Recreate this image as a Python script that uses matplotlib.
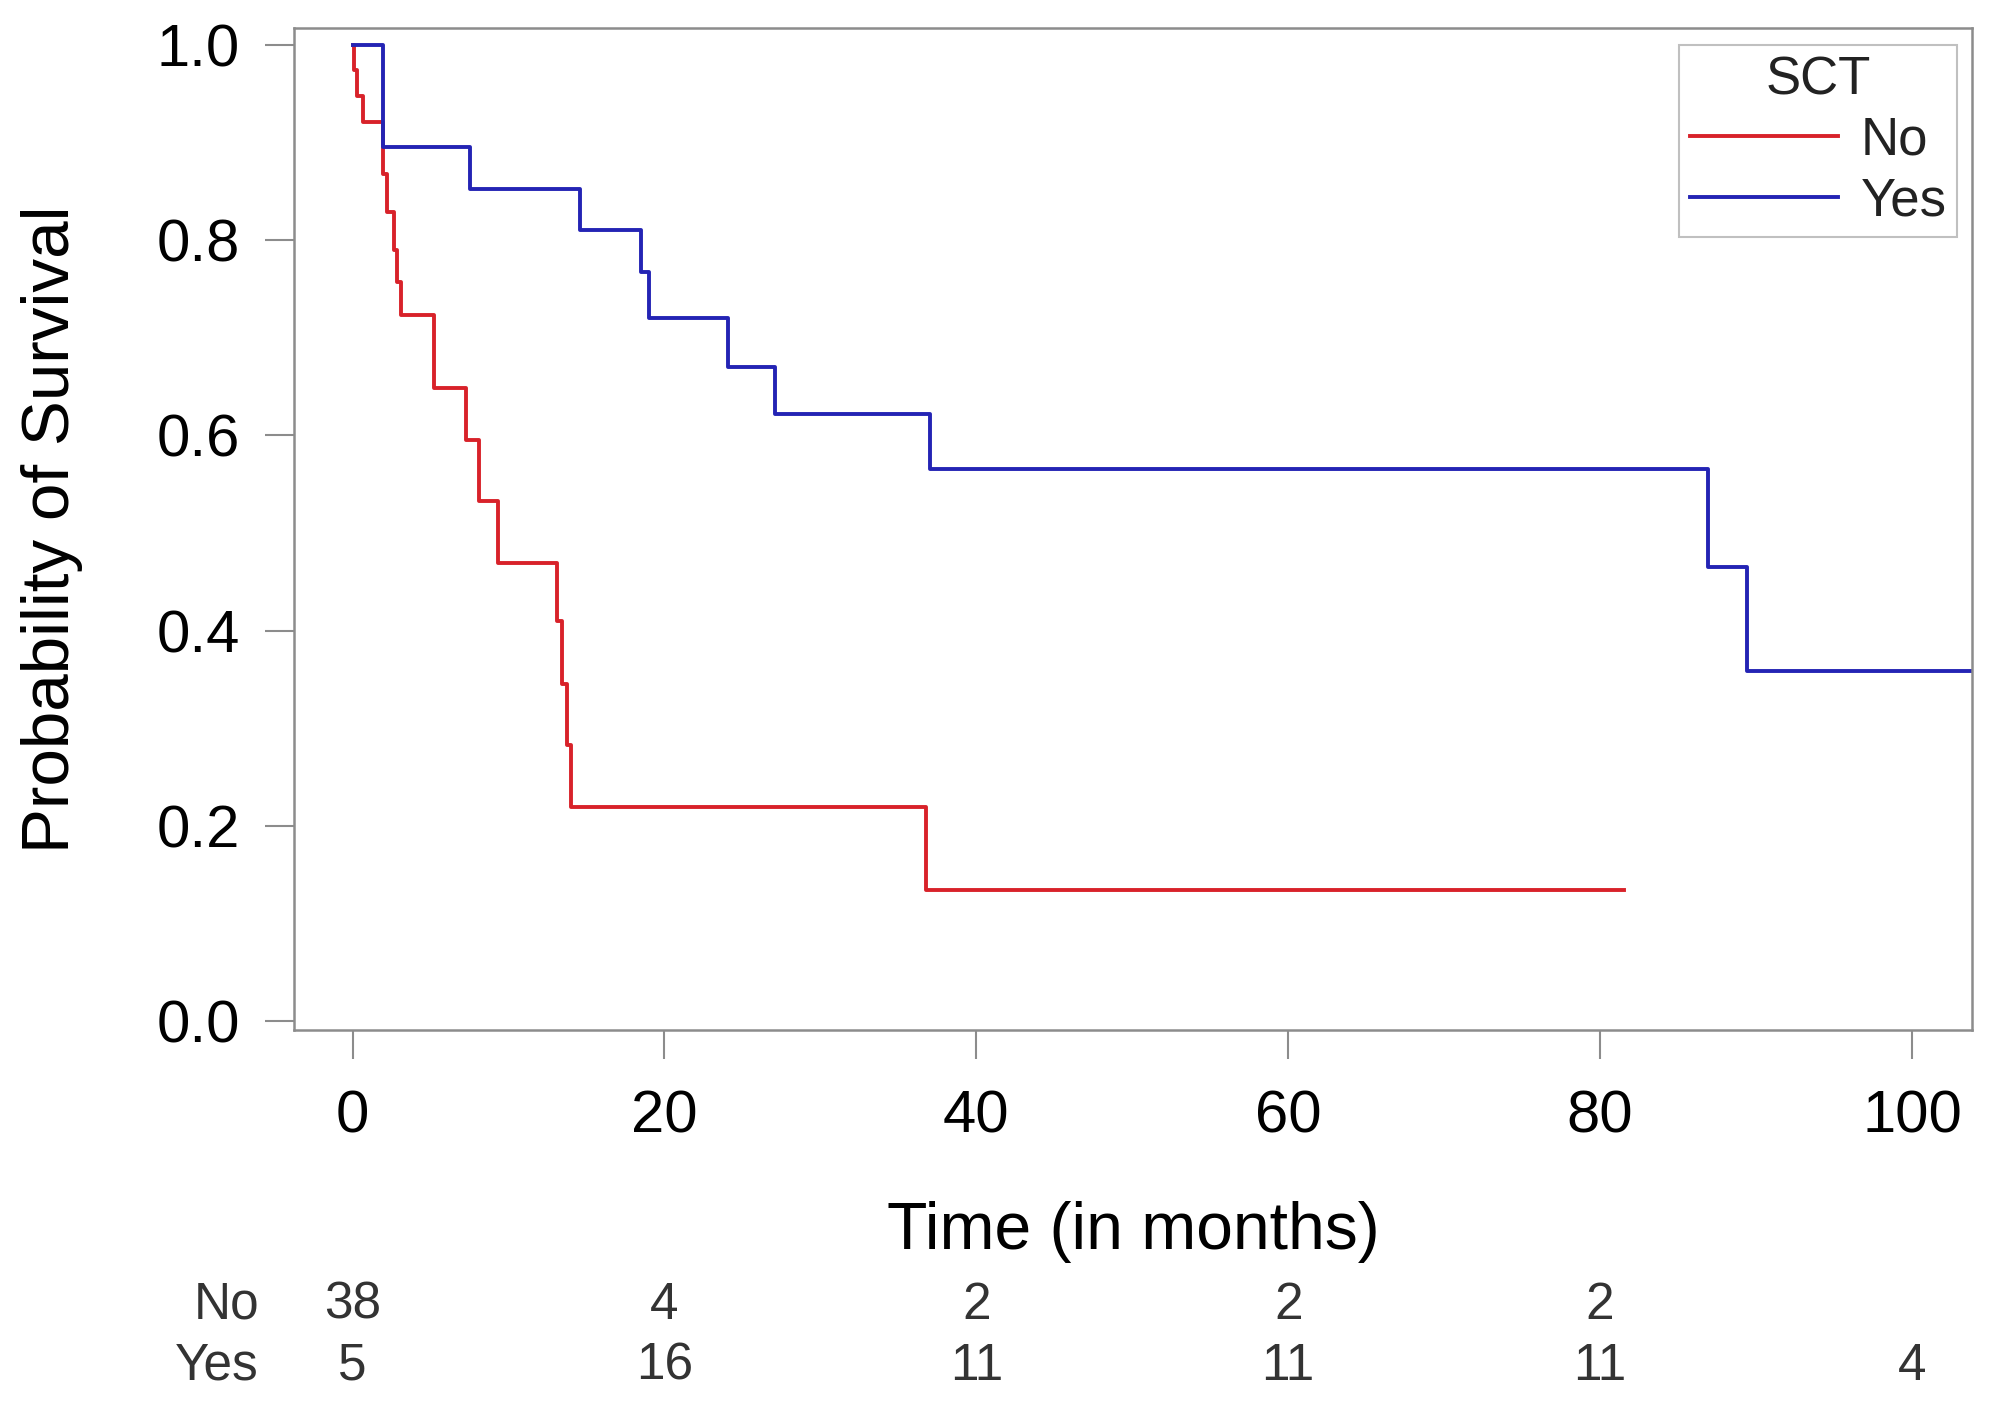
import matplotlib
matplotlib.use('Agg')
import matplotlib.pyplot as plt
import matplotlib.transforms as mtransforms

plt.rcParams['font.family'] = ['Liberation Sans', 'DejaVu Sans']

# Kaplan-Meier estimates
no_time = [0, 0.1, 0.3, 0.65, 1.95, 2.2, 2.65, 2.85, 3.1, 5.25, 7.25, 8.1,
           9.3, 13.1, 13.4, 13.75, 14.0, 36.8, 81.5]
no_surv = [1.0, 0.974, 0.947, 0.921, 0.868, 0.829, 0.790, 0.757, 0.723,
           0.648, 0.595, 0.533, 0.469, 0.410, 0.345, 0.283, 0.219, 0.134, 0.134]

yes_time = [0, 1.95, 7.5, 14.6, 18.5, 19.0, 24.1, 27.1, 37.0, 86.9, 89.4, 106]
yes_surv = [1.0, 0.895, 0.852, 0.810, 0.767, 0.720, 0.670, 0.622, 0.565,
            0.465, 0.359, 0.359]

# numbers at risk
risk_times = [0, 20, 40, 60, 80, 100]
risk_no = [38, 4, 2, 2, 2, None]
risk_yes = [5, 16, 11, 11, 11, 4]

groups = ['No', 'Yes']
colors = ['#d8222a', '#2424b4']

fig = plt.figure(figsize=(19.95, 14.05), dpi=100)
ax = fig.add_axes([0.1474, 0.267, 0.8411, 0.713])

ax.step(no_time, no_surv, where='post', color=colors[0], lw=2.8, label=groups[0])
ax.step(yes_time, yes_surv, where='post', color=colors[1], lw=2.8, label=groups[1])

ax.set_xlim(-3.75, 103.85)
ax.set_ylim(-0.009, 1.017)
ax.set_xticks(risk_times)
ax.set_yticks([0.0, 0.2, 0.4, 0.6, 0.8, 1.0])
ax.set_yticklabels(['0.0', '0.2', '0.4', '0.6', '0.8', '1.0'])

for sp in ax.spines.values():
    sp.set_color('#8c8c8c')
    sp.set_linewidth(1.8)
ax.tick_params(axis='both', direction='out', length=21, width=1.5,
               color='#8c8c8c', labelsize=43, labelcolor='black')
ax.tick_params(axis='x', pad=22)
ax.tick_params(axis='y', pad=18)

ax.set_xlabel('Time (in months)', fontsize=47.5, va='center')
ax.xaxis.set_label_coords(0.5, -0.2016)
ax.set_ylabel('Probability of Survival', fontsize=48.5, va='center')
ax.yaxis.set_label_coords(-0.1442, 0.5)

leg = ax.legend(title='SCT', loc='upper right', bbox_to_anchor=(0.991, 0.9835),
                borderaxespad=0, fontsize=38, title_fontsize=38, handlelength=2.8,
                handletextpad=0.43, labelspacing=0.2, borderpad=0.2,
                fancybox=False, framealpha=1)
leg.get_frame().set_edgecolor('#c0c0c0')
leg.get_frame().set_linewidth(1.5)
for t in leg.get_texts():
    t.set_color('#222222')
leg.get_title().set_color('#222222')

# risk table below the plot
trans = mtransforms.blended_transform_factory(ax.transData, ax.transAxes)
ax.text(-6.0, -0.275, groups[0], transform=trans, ha='right', va='center',
        fontsize=37, color='#333333', clip_on=False)
ax.text(-6.0, -0.336, groups[1], transform=trans, ha='right', va='center',
        fontsize=37, color='#333333', clip_on=False)
for t, n in zip(risk_times, risk_no):
    if n is not None:
        ax.text(t, -0.275, str(n), transform=trans, ha='center', va='center',
                fontsize=37, color='#333333', clip_on=False)
for t, n in zip(risk_times, risk_yes):
    ax.text(t, -0.336, str(n), transform=trans, ha='center', va='center',
            fontsize=37, color='#333333', clip_on=False)

fig.savefig('out.png', dpi=100)
